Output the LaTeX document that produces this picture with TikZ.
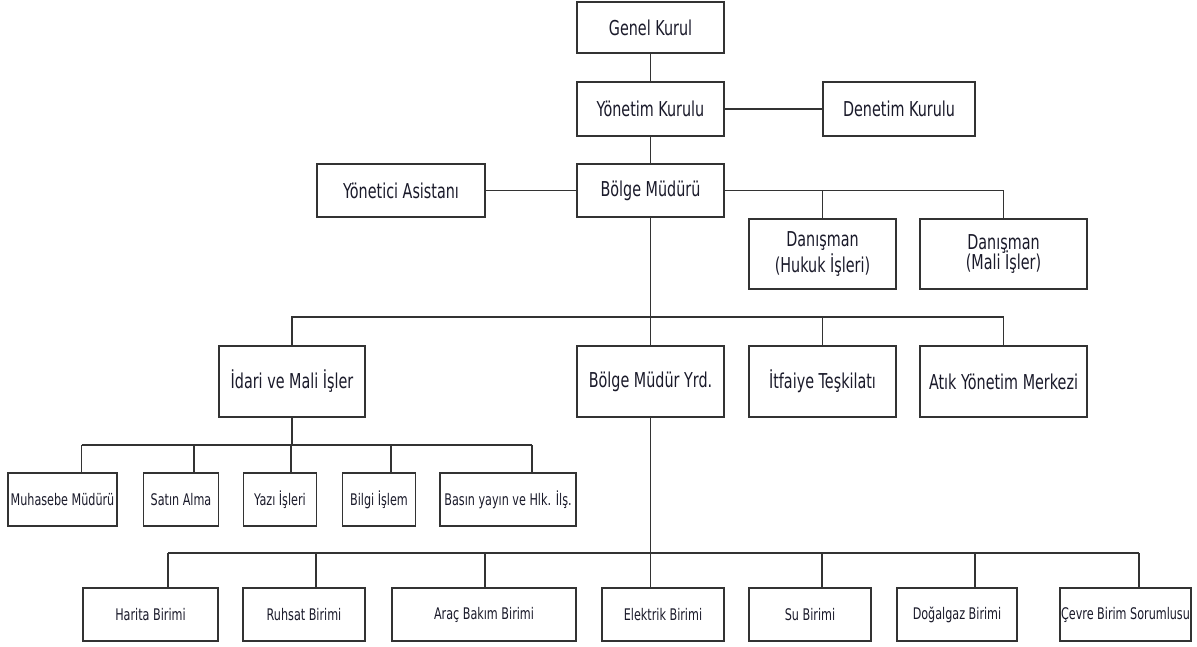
\documentclass[tikz,border=0pt]{standalone}
\usepackage{fontspec}
\setmainfont{DejaVu Sans}[FakeStretch=0.7]
\usetikzlibrary{calc}
\definecolor{lincol}{HTML}{333333}
\definecolor{txtcol}{HTML}{1A1A2A}
\tikzset{
  orgbox/.style={draw=lincol, line width=1.9pt, fill=white, inner sep=0pt, outer sep=0pt,
    text=txtcol, align=center, font=\fontsize{20.5}{24}\selectfont},
  smallbox/.style={orgbox, font=\fontsize{16}{19}\selectfont},
  conn/.style={draw=lincol, line width=1.9pt}
}
\begin{document}
\begin{tikzpicture}[x=1pt,y=-1pt]
\useasboundingbox (0,0) rectangle (1197,646);
% top levels
\node[orgbox, minimum width=147pt, minimum height=51pt] (gk) at (650.5,27.5) {Genel Kurul};
\node[orgbox, minimum width=147pt, minimum height=54pt] (yk) at (650.5,109) {Yönetim Kurulu};
\node[orgbox, minimum width=152pt, minimum height=54pt] (dk) at (899,109) {Denetim Kurulu};
\node[orgbox, minimum width=147pt, minimum height=53pt] (bm) at (650.5,190.5) {Bölge Müdürü};
\node[orgbox, minimum width=168pt, minimum height=53pt] (ya) at (401,190.5) {Yönetici Asistanı};
\node[orgbox, minimum width=147pt, minimum height=70pt] (dh) at (822.5,254) {Danışman\\[2pt](Hukuk İşleri)};
\node[orgbox, minimum width=167pt, minimum height=70pt] (dm) at (1003.5,254) {Danışman\\[-4pt](Mali İşler)};
% second level
\node[orgbox, minimum width=146pt, minimum height=71pt] (im) at (292,381.5) {İdari ve Mali İşler};
\node[orgbox, minimum width=147pt, minimum height=71pt] (by) at (650.5,381.5) {Bölge Müdür Yrd.};
\node[orgbox, minimum width=147pt, minimum height=71pt] (it) at (822.5,381.5) {İtfaiye Teşkilatı};
\node[orgbox, minimum width=167pt, minimum height=71pt] (at) at (1003.5,381.5) {Atık Yönetim Merkezi};
% idari sub units
\node[smallbox, minimum width=109pt, minimum height=53pt] (mu) at (62.5,499.5) {Muhasebe Müdürü};
\node[smallbox, minimum width=75pt, minimum height=53pt] (sa) at (181,499.5) {Satın Alma};
\node[smallbox, minimum width=73pt, minimum height=53pt] (yi) at (280,499.5) {Yazı İşleri};
\node[smallbox, minimum width=73pt, minimum height=53pt] (bi) at (379,499.5) {Bilgi İşlem};
\node[smallbox, minimum width=136pt, minimum height=53pt] (ba) at (508,499.5) {Basın yayın ve Hlk. İlş.};
% yrd sub units
\node[smallbox, minimum width=135pt, minimum height=53pt] (ha) at (150.5,614.5) {Harita Birimi};
\node[smallbox, minimum width=122pt, minimum height=53pt] (ru) at (304,614.5) {Ruhsat Birimi};
\node[smallbox, minimum width=184pt, minimum height=53pt] (ar) at (484,614.5) {Araç Bakım Birimi};
\node[smallbox, minimum width=122pt, minimum height=53pt] (el) at (663,614.5) {Elektrik Birimi};
\node[smallbox, minimum width=122pt, minimum height=53pt] (su) at (810,614.5) {Su Birimi};
\node[smallbox, minimum width=120pt, minimum height=53pt] (do) at (957,614.5) {Doğalgaz Birimi};
\node[smallbox, minimum width=131pt, minimum height=53pt] (ce) at (1125.5,614.5) {Çevre Birim Sorumlusu};
% bus coordinates
\coordinate (bus1) at (650.5,317);
\coordinate (jmu) at (81.5,445);
\coordinate (jsa) at (194,445);
\coordinate (jyi) at (291,445);
\coordinate (jbi) at (391,445);
\coordinate (jba) at (532,445);
\coordinate (jha) at (168,553);
\coordinate (jru) at (316,553);
\coordinate (jar) at (485,553);
\coordinate (jsu) at (822,553);
\coordinate (jdo) at (975,553);
\coordinate (jce) at (1139,553);
% connectors
\draw[conn] (gk.south) -- (yk.north);
\draw[conn] (yk.east) -- (dk.west);
\draw[conn] (yk.south) -- (bm.north);
\draw[conn] (ya.east) -- (bm.west);
\draw[conn] (bm.east) -| (dm.north);
\draw[conn] (dh.north) -- (dh.north |- bm.east);
\draw[conn] (bm.south) -- (by.north);
\draw[conn] (im.north) |- (bus1) -| (at.north);
\draw[conn] (it.north) -- (it.north |- bus1);
\draw[conn] (im.south) -- (im.south |- jmu);
\draw[conn] (jmu) -- (jba);
\foreach \j/\n in {jmu/mu,jsa/sa,jyi/yi,jbi/bi,jba/ba}
  \draw[conn] (\j) -- (\j |- \n.north);
\draw[conn] (by.south) -- (by.south |- el.north);
\draw[conn] (jha) -- (jce);
\foreach \j/\n in {jha/ha,jru/ru,jar/ar,jsu/su,jdo/do,jce/ce}
  \draw[conn] (\j) -- (\j |- \n.north);
\end{tikzpicture}
\end{document}
